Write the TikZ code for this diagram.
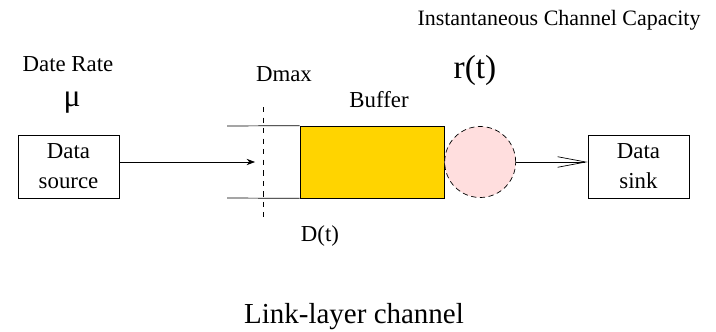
\documentclass[tikz,border=0pt]{standalone}
\usepackage{fontspec}
\setmainfont{Liberation Serif}
\usetikzlibrary{arrows.meta, positioning}
\definecolor{bufyellow}{RGB}{255,212,0}
\definecolor{srvpink}{RGB}{255,222,222}

\begin{document}
\begin{tikzpicture}[x=0.02cm, y=-0.02cm,
        box/.style={rectangle, draw, minimum width=2.02cm, minimum height=1.26cm, align=center, font=\fontsize{13}{17}\selectfont},
        lbl/.style={inner sep=0pt, font=\fontsize{13}{15}\selectfont},
        >=Stealth
    ]
        \useasboundingbox (0,0) rectangle (716,331);
        \node[box] (src) at (68.5,166.5) {Data\\source};
        \node[draw, fill=bufyellow, minimum width=2.88cm, minimum height=1.44cm, inner sep=0pt] (buf) at (372,162) {};
        \node[circle, draw, densely dashed, fill=srvpink, minimum size=1.42cm, inner sep=0pt, right=0pt of buf] (srv) {};
        \node[box] (sink) at (638.5,166.5) {Data\\sink};
        % channel walls and threshold
        \coordinate (chtop) at (227,126);
        \coordinate (chbot) at (227,198);
        \coordinate (dmtop) at (263,107);
        \coordinate (dmbot) at (263,217);
        \coordinate (inend) at (255,162);
        \draw (chtop) -- (buf.north west);
        \draw (chbot) -- (buf.south west);
        \draw[dashed] (dmtop) -- (dmbot);
        \draw[->] (src.east |- inend) -- (inend);
        \draw[-{Straight Barb[length=16pt,width=6pt]}] (srv.east) -- (srv.east -| sink.west);
        % labels
        \node[lbl] (rate) at (68,64) {Date Rate};
        \node[inner sep=0pt, font=\fontsize{18}{20}\selectfont] (mu) at (72,103) {μ};
        \node[lbl] (dmax) at (284,74) {Dmax};
        \node[lbl] (buflbl) at (379,100) {Buffer};
        \node[lbl] (dt) at (320,236) {D(t)};
        \node[inner sep=0pt, font=\fontsize{19}{21}\selectfont] (rt) at (475,70) {r(t)};
        \node[inner sep=0pt, font=\fontsize{12.5}{14}\selectfont] (cap) at (559,20) {Instantaneous Channel Capacity};
        \node[inner sep=0pt, font=\fontsize{16.5}{18}\selectfont] (link) at (354,317) {Link-layer channel};
    \end{tikzpicture}
\end{document}
